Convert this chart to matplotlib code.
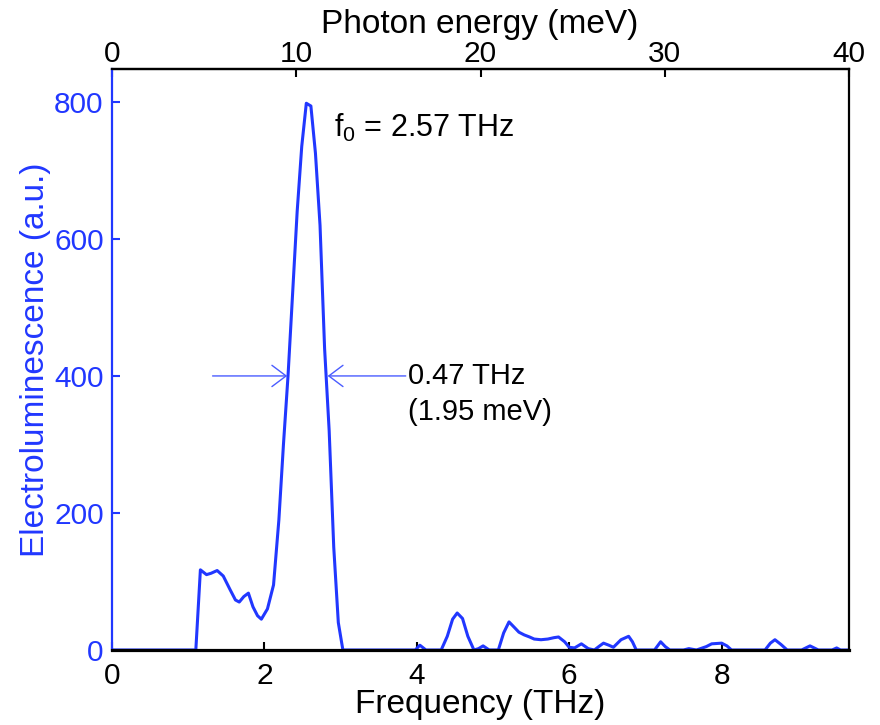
import numpy as np
import matplotlib
matplotlib.use("Agg")
import matplotlib.pyplot as plt

plt.rcParams['font.family'] = ['Liberation Sans', 'DejaVu Sans']

# ---- data ----
freq_thz = [0.00, 1.10, 1.16, 1.24, 1.30, 1.38, 1.46, 1.55, 1.62, 1.67, 1.73, 1.79,
            1.85, 1.91, 1.96, 2.04, 2.12, 2.19, 2.25, 2.31, 2.37, 2.43, 2.49, 2.55,
            2.61, 2.67, 2.73, 2.79, 2.85, 2.91, 2.97, 3.03, 3.98, 4.04, 4.12, 4.32,
            4.40, 4.47, 4.53, 4.60, 4.67, 4.75, 4.81, 4.87, 4.95, 5.07, 5.14, 5.21,
            5.28, 5.34, 5.41, 5.48, 5.54, 5.63, 5.72, 5.80, 5.86, 5.94, 6.00, 6.07,
            6.16, 6.25, 6.33, 6.40, 6.45, 6.52, 6.58, 6.68, 6.78, 6.83, 6.88, 7.12,
            7.20, 7.26, 7.32, 7.50, 7.57, 7.67, 7.80, 7.87, 8.00, 8.07, 8.13, 8.57,
            8.64, 8.70, 8.78, 8.86, 9.05, 9.16, 9.27, 9.45, 9.51, 9.56, 9.67]
intensity = [0, 0, 117, 110, 112, 116, 108, 88, 73, 70, 78, 83,
             63, 50, 45, 60, 95, 190, 300, 400, 520, 640, 735, 798,
             794, 725, 620, 440, 320, 150, 40, 0, 0, 7, 0, 0,
             20, 45, 54, 46, 20, 0, 2, 6, 0, 0, 25, 41,
             33, 26, 22, 19, 16, 15, 16, 18, 19, 12, 4, 3,
             9, 2, 0, 6, 10, 7, 4, 15, 20, 12, 0, 0,
             12, 5, 0, 0, 2, 0, 5, 9, 10, 6, 0, 0,
             10, 15, 8, 0, 0, 6, 0, 0, 3, 0, 0]

xticks_thz = [0, 2, 4, 6, 8]
yticks = [0, 200, 400, 600, 800]
top_ticks_mev = [0, 10, 20, 30, 40]
MEV_PER_THZ = 4.1357
fwhm_y = 400
fwhm_left = (1.32, 2.30)
fwhm_right = (3.855, 2.83)

BLUE = '#2137ff'
ARROW_BLUE = '#4a5cff'

fig = plt.figure(figsize=(8.8, 7.25), dpi=100)
ax = fig.add_axes([112/880, 1-650/725, (849-112)/880, (650-69)/725])

ax.plot(freq_thz, intensity, color=BLUE, lw=2.2, zorder=2)

ax.set_xlim(0, 40/MEV_PER_THZ)
ax.set_ylim(0, 848)
ax.set_xticks(xticks_thz)
ax.set_yticks(yticks)

for s in ax.spines.values():
    s.set_linewidth(1.6)
    s.set_zorder(3)
ax.spines['bottom'].set_linewidth(2.3)
ax.spines['left'].set_color(BLUE)

ax.tick_params(axis='x', direction='in', length=6, width=1.5, labelsize=21.5,
               pad=9, colors='black', top=False)
ax.tick_params(axis='y', direction='in', length=6, width=1.5, labelsize=21.5,
               pad=6, colors=BLUE, right=False)

# top axis in meV
sec = ax.secondary_xaxis('top', functions=(lambda f: f*MEV_PER_THZ, lambda e: e/MEV_PER_THZ))
sec.set_xticks(top_ticks_mev)
sec.tick_params(direction='in', length=6, width=1.5, labelsize=21.5, pad=1)
sec.spines['top'].set_linewidth(1.6)

# axis labels (centred on the axes)
fig.text(480/880, 1-704/725, 'Frequency (THz)', ha='center', va='center', fontsize=24)
fig.text(480/880, 1-25/725, 'Photon energy (meV)', ha='center', va='center', fontsize=24)
fig.text(36/880, 1-360/725, 'Electroluminescence (a.u.)', ha='center', va='center',
         rotation=90, fontsize=24, color=BLUE)

# annotations
ax.text(2.91, 762, r'f$_\mathregular{0}$ = 2.57 THz', fontsize=22, va='center', ha='left')
ax.text(3.88, 400, '0.47 THz', fontsize=21, va='center', ha='left')
ax.text(3.88, 347, '(1.95 meV)', fontsize=21, va='center', ha='left')

astyle = dict(arrowstyle='->,head_length=0.6,head_width=0.45', color=ARROW_BLUE, lw=1.0,
              shrinkA=0, shrinkB=0, mutation_scale=17)
ax.annotate('', xy=(fwhm_left[1], fwhm_y), xytext=(fwhm_left[0], fwhm_y), arrowprops=astyle)
ax.annotate('', xy=(fwhm_right[1], fwhm_y), xytext=(fwhm_right[0], fwhm_y), arrowprops=astyle)

fig.savefig('out.png', dpi=100)
